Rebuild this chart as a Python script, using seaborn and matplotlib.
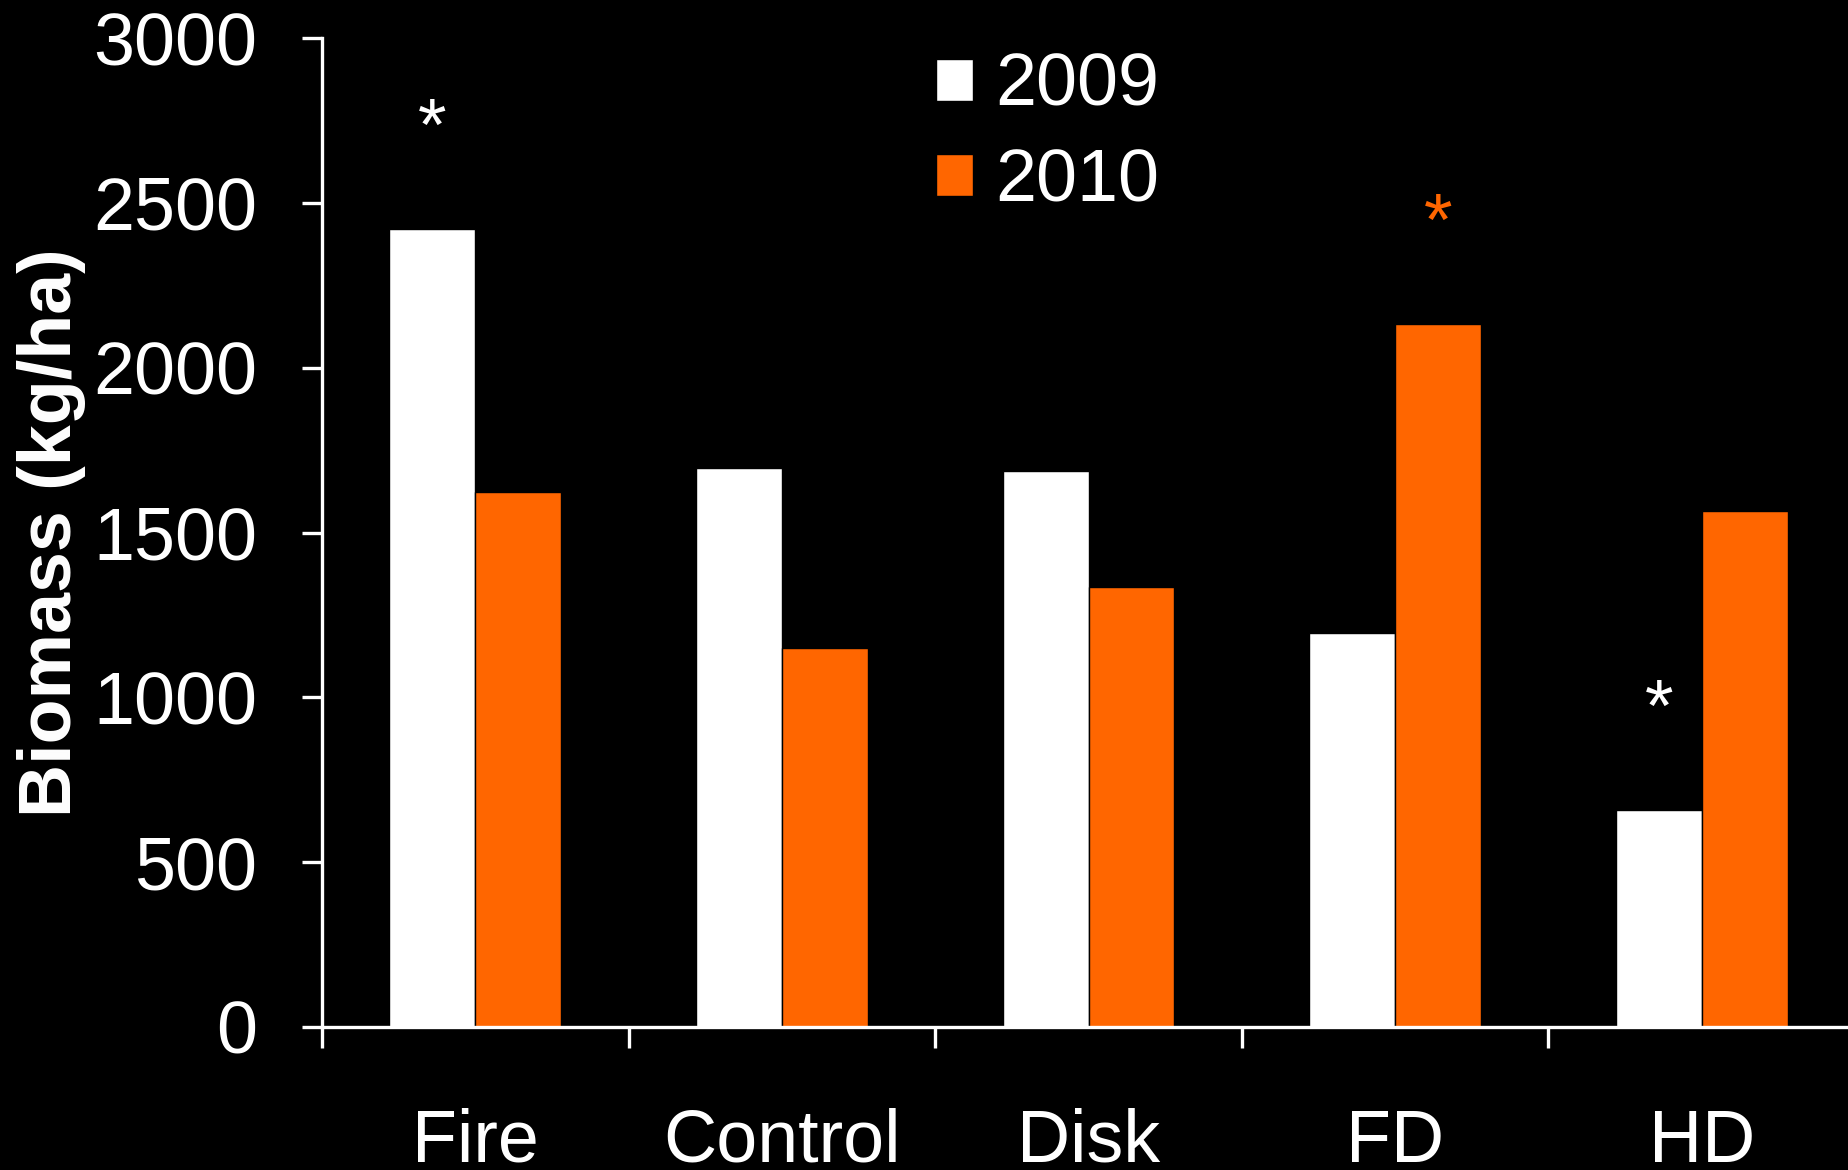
import pandas as pd
import matplotlib.pyplot as plt
import seaborn as sns
from matplotlib.patches import Patch
from matplotlib.ticker import FixedLocator

treatments = ["Fire", "Control", "Disk", "FD", "HD"]
years = ["2009", "2010"]
biomass_2009 = [2420, 1695, 1688, 1194, 658]
biomass_2010 = [1623, 1151, 1334, 2131, 1566]
# significance stars: (treatment, year)
stars = [("Fire", "2009"), ("FD", "2010"), ("HD", "2009")]

colors = {"2009": "#FFFFFF", "2010": "#FF6600"}

df = pd.DataFrame({
    "Treatment": treatments * 2,
    "Year": ["2009"] * len(treatments) + ["2010"] * len(treatments),
    "Biomass": biomass_2009 + biomass_2010,
})

sns.set_style("white")
plt.rcParams["font.family"] = ["Liberation Sans", "DejaVu Sans"]
fs = 53

fig = plt.figure(figsize=(18.49, 11.70), dpi=100, facecolor="black")
ax = fig.add_axes([322 / 1849, 1 - 1027 / 1170, 1533 / 1849, 989 / 1170])
ax.set_facecolor("black")

sns.barplot(data=df, x="Treatment", y="Biomass", hue="Year", order=treatments,
            hue_order=years, palette=colors, width=0.56, gap=0,
            edgecolor="black", linewidth=1, saturation=1, legend=False, ax=ax)

ax.set_xlim(-0.5, 4.5)
ax.set_ylim(0, 3000)
ax.set_yticks(range(0, 3001, 500))

# ticks between groups, labels at group centres
ax.xaxis.set_major_locator(FixedLocator([i - 0.5 for i in range(len(treatments) + 1)]))
ax.xaxis.set_minor_locator(FixedLocator(range(len(treatments))))
ax.set_xticklabels([], minor=False)
ax.set_xticklabels(treatments, minor=True)
ax.tick_params(axis="x", which="major", direction="out", length=15, width=2.4,
               color="white", bottom=True)
ax.tick_params(axis="x", which="minor", length=0, pad=58, labelsize=fs,
               labelcolor="white", bottom=True)
ax.tick_params(axis="y", direction="out", length=14.5, width=2.4, color="white",
               left=True, pad=32, labelsize=fs, labelcolor="white")

for s in ["top", "right"]:
    ax.spines[s].set_visible(False)
for s in ["left", "bottom"]:
    ax.spines[s].set_color("white")
    ax.spines[s].set_linewidth(2.4)

ax.set_xlabel("")
ax.set_ylabel("Biomass (kg/ha)", fontsize=fs, fontweight="bold", color="white")
ax.yaxis.set_label_coords(-0.154, 0.5)

# asterisks above significant bars
n = len(treatments)
for t, yr in stars:
    bar = ax.patches[years.index(yr) * n + treatments.index(t)]
    cx = bar.get_x() + bar.get_width() / 2
    ax.annotate("*", xy=(cx, bar.get_height()), xytext=(0, 57),
                textcoords="offset points", ha="center", va="baseline",
                fontsize=fs, color=colors[yr])

handles = [Patch(facecolor=colors[y], edgecolor="black") for y in years]
fig.legend(handles, years, loc="upper left", bbox_to_anchor=(936 / 1849, 1 - 52 / 1170),
           frameon=False, fontsize=fs, labelcolor="white", handlelength=0.5,
           handleheight=0.5, handletextpad=0.3, labelspacing=0.36, borderpad=0,
           borderaxespad=0)

fig.savefig("out.png", dpi=100, facecolor="black")
